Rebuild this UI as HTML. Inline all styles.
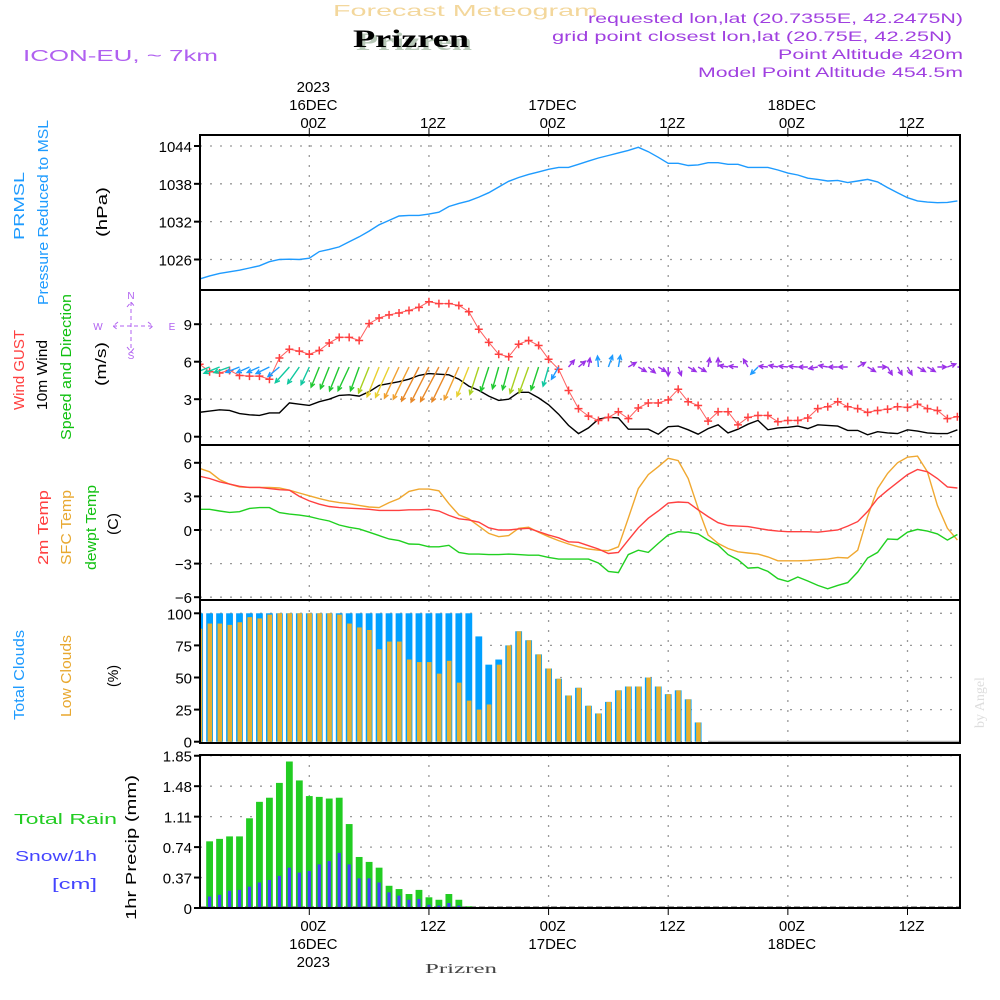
<!DOCTYPE html>
<html><head><meta charset="utf-8"><style>
html,body{margin:0;padding:0;background:#fff;}
svg{display:block;font-family:"Liberation Sans",sans-serif;}
</style></head><body>
<svg id="chart" xmlns="http://www.w3.org/2000/svg" width="1000" height="1000" viewBox="0 0 1000 1000">
<rect x="0" y="0" width="1000" height="1000" fill="#fff"/>
<defs>
<clipPath id="c1"><rect x="200" y="135" width="760" height="155"/></clipPath>
<clipPath id="c2"><rect x="200" y="290" width="760" height="155"/></clipPath>
<clipPath id="c3"><rect x="200" y="445" width="760" height="155"/></clipPath>
<clipPath id="c4"><rect x="200" y="600" width="760" height="143"/></clipPath>
<clipPath id="c5"><rect x="200" y="755" width="760" height="153"/></clipPath>
</defs>
<!-- header -->
<text x="333" y="16" fill="#f3d79c" font-size="16" textLength="265" lengthAdjust="spacingAndGlyphs">Forecast Meteogram</text>
<text x="356" y="50" fill="#b8c8b8" font-family="Liberation Serif,serif" font-weight="bold" font-size="25" textLength="116" lengthAdjust="spacingAndGlyphs">Prizren</text>
<text x="353" y="47" fill="#000" font-family="Liberation Serif,serif" font-weight="bold" font-size="25" textLength="116" lengthAdjust="spacingAndGlyphs">Prizren</text>
<text x="23" y="61" fill="#b060f0" font-size="16" textLength="195" lengthAdjust="spacingAndGlyphs">ICON-EU, ~ 7km</text>
<g fill="#a040e0" font-size="14" text-anchor="end">
<text x="963" y="23" textLength="375" lengthAdjust="spacingAndGlyphs">requested lon,lat (20.7355E, 42.2475N)</text>
<text x="952" y="41" textLength="400" lengthAdjust="spacingAndGlyphs">grid point closest lon,lat (20.75E, 42.25N)</text>
<text x="963" y="59" textLength="185" lengthAdjust="spacingAndGlyphs">Point Altitude 420m</text>
<text x="963" y="77" textLength="265" lengthAdjust="spacingAndGlyphs">Model Point Altitude 454.5m</text>
</g>
<!-- left labels -->
<g font-size="15">
<text transform="translate(24,240) rotate(-90)" fill="#1e9bff" textLength="68" lengthAdjust="spacingAndGlyphs">PRMSL</text>
<text transform="translate(48,305) rotate(-90)" fill="#1e9bff" textLength="185" lengthAdjust="spacingAndGlyphs">Pressure Reduced to MSL</text>
<text transform="translate(107,237) rotate(-90)" fill="#000" textLength="50" lengthAdjust="spacingAndGlyphs">(hPa)</text>
<text transform="translate(24,410) rotate(-90)" fill="#ff4040" textLength="80" lengthAdjust="spacingAndGlyphs">Wind GUST</text>
<text transform="translate(47,410) rotate(-90)" fill="#000" textLength="70" lengthAdjust="spacingAndGlyphs">10m Wind</text>
<text transform="translate(71,440) rotate(-90)" fill="#10c010" textLength="146" lengthAdjust="spacingAndGlyphs">Speed and Direction</text>
<text transform="translate(106,386) rotate(-90)" fill="#000" textLength="44" lengthAdjust="spacingAndGlyphs">(m/s)</text>
<text transform="translate(48,565) rotate(-90)" fill="#ff4040" textLength="75" lengthAdjust="spacingAndGlyphs">2m Temp</text>
<text transform="translate(71,565) rotate(-90)" fill="#e8a830" textLength="75" lengthAdjust="spacingAndGlyphs">SFC Temp</text>
<text transform="translate(96,570) rotate(-90)" fill="#10c010" textLength="85" lengthAdjust="spacingAndGlyphs">dewpt Temp</text>
<text transform="translate(118,535) rotate(-90)" fill="#000" textLength="22" lengthAdjust="spacingAndGlyphs">(C)</text>
<text transform="translate(24,720) rotate(-90)" fill="#1e9bff" textLength="90" lengthAdjust="spacingAndGlyphs">Total Clouds</text>
<text transform="translate(71,717) rotate(-90)" fill="#e8a830" textLength="82" lengthAdjust="spacingAndGlyphs">Low Clouds</text>
<text transform="translate(118,687) rotate(-90)" fill="#000" textLength="22" lengthAdjust="spacingAndGlyphs">(%)</text>
<text transform="translate(136,920) rotate(-90)" fill="#000" textLength="145" lengthAdjust="spacingAndGlyphs">1hr Precip (mm)</text>
<text x="14" y="824" fill="#22cc22" textLength="103" lengthAdjust="spacingAndGlyphs">Total   Rain</text>
<text x="15" y="861" fill="#4444ff" textLength="82" lengthAdjust="spacingAndGlyphs">Snow/1h</text>
<text x="52" y="889" fill="#4444ff" textLength="45" lengthAdjust="spacingAndGlyphs">[cm]</text>
</g>
<!-- compass -->
<g fill="#b060f0" stroke="none" font-size="10">
<text x="131" y="299" text-anchor="middle">N</text>
<text x="131" y="359" text-anchor="middle">S</text>
<text x="98" y="330" text-anchor="middle">W</text>
<text x="172" y="330" text-anchor="middle">E</text>
<path d="M131 302 V352 M113 326 H153 M127 307 L131 302 L135 307 M127 347 L131 352 L135 347 M118 322 L113 326 L118 330 M148 322 L153 326 L148 330" stroke="#b060f0" stroke-width="1" stroke-dasharray="4,3" fill="none"/>
</g>
<text transform="translate(984,728) rotate(-90)" fill="#ddd" font-family="Liberation Serif,serif" font-size="14">by Angel</text>
<text x="425" y="973" fill="#444" font-family="Liberation Serif,serif" font-size="14" textLength="72" lengthAdjust="spacingAndGlyphs">Prizren</text>
<g id="grid"></g>
<g id="marks"></g>
<g id="frames"></g>
<g id="labels" font-size="15" fill="#000"></g>
</svg>
<script>
// ---- data (hourly, t = hours from 16DEC 00Z) ----
const hours = [];
for (let h = -11; h <= 65; h++) hours.push(h);
const pressure = [1022.9,1023.4,1023.8,1024.05,1024.3,1024.65,1025.0,1025.65,1026.0,1026.05,1026.0,1026.2,1027.25,1027.6,1028.0,1028.8,1029.6,1030.5,1031.5,1032.2,1032.9,1033.0,1033.0,1033.2,1033.5,1034.4,1034.9,1035.3,1035.9,1036.6,1037.5,1038.4,1039.0,1039.5,1039.9,1040.3,1040.6,1040.6,1041.1,1041.6,1042.1,1042.5,1042.9,1043.3,1043.8,1043.1,1042.2,1041.25,1041.25,1040.9,1041.0,1041.35,1041.35,1041.1,1041.1,1040.6,1040.6,1040.6,1040.2,1039.7,1039.4,1038.9,1038.7,1038.45,1038.55,1038.2,1038.45,1038.7,1038.3,1037.4,1036.6,1035.8,1035.3,1035.1,1035.0,1035.05,1035.3];
const gust = [5.8,5.2,5.1,5.3,4.9,4.85,4.85,4.6,6.3,7.0,6.85,6.6,6.9,7.5,7.95,7.95,7.7,9.05,9.5,9.75,9.9,10.1,10.35,10.8,10.65,10.65,10.5,10.0,8.6,7.55,6.6,6.4,7.4,7.7,7.3,6.2,5.4,3.7,2.25,1.65,1.3,1.55,2.0,1.45,2.3,2.7,2.7,2.95,3.8,2.8,2.5,1.25,2.0,2.0,0.95,1.55,1.7,1.7,1.2,1.3,1.3,1.5,2.25,2.4,2.8,2.4,2.25,1.95,2.1,2.2,2.4,2.35,2.6,2.25,2.1,1.45,1.6];
const windSpeed = [1.95,2.05,2.15,2.1,1.85,1.75,1.7,1.9,1.9,2.7,2.6,2.5,2.8,3.0,3.3,3.35,3.25,3.6,4.1,4.25,4.4,4.6,4.9,5.05,5.0,4.95,4.6,4.05,3.7,3.25,2.9,3.0,3.55,3.55,3.1,2.55,1.8,0.9,0.25,0.7,1.4,1.55,1.5,0.6,0.6,0.6,0.2,0.8,0.85,0.55,0.2,0.65,0.95,0.3,0.6,1.0,1.3,0.55,0.7,0.75,0.85,0.65,0.95,0.9,0.85,0.5,0.5,0.15,0.4,0.3,0.25,0.55,0.45,0.3,0.25,0.25,0.55];
const windDir = [68,68,68,70,68,66,66,64,50,42,35,25,22,22,22,25,20,22,22,24,25,26,27,27,28,26,24,22,18,18,16,15,18,20,18,16,30,220,230,190,175,200,190,240,300,310,300,0,340,300,300,190,180,100,95,150,45,95,100,95,95,90,80,100,90,90,240,300,270,330,330,330,300,300,270,250,270];
const temp2m = [4.8,4.6,4.3,4.1,3.9,3.8,3.8,3.7,3.6,3.55,3.0,2.6,2.3,2.1,2.0,1.95,1.9,1.85,1.75,1.75,1.75,1.8,1.8,1.85,1.7,1.3,1.0,0.9,0.7,0.2,0.0,0.0,0.1,0.15,-0.15,-0.45,-0.7,-1.05,-1.1,-1.4,-1.7,-2.1,-2.0,-0.9,0.2,1.05,1.7,2.4,2.5,2.45,1.8,1.2,0.65,0.4,0.35,0.3,0.15,0,-0.1,-0.15,-0.15,-0.15,-0.2,-0.1,0,0.35,0.75,1.65,2.8,3.55,4.25,4.95,5.4,5.2,4.6,3.85,3.75];
const tempSfc = [5.5,5.2,4.5,4.1,3.85,3.8,3.8,3.8,3.75,3.55,3.3,3.05,2.8,2.6,2.45,2.35,2.2,2.05,2.0,2.45,2.8,3.45,3.65,3.65,3.5,2.35,1.35,1.0,0.35,-0.3,-0.6,-0.5,0.15,0.25,-0.2,-0.6,-0.95,-1.25,-1.5,-1.7,-1.8,-1.85,-1.5,1.05,3.7,4.95,5.65,6.4,6.2,4.6,1.95,-0.45,-1.2,-1.65,-1.95,-2.05,-2.15,-2.4,-2.75,-2.75,-2.75,-2.72,-2.65,-2.6,-2.45,-2.5,-1.8,1.2,3.7,5.05,6.0,6.5,6.6,5.2,2.2,0.15,-0.9];
const dewpt = [1.85,1.85,1.7,1.57,1.63,1.93,2.0,2.0,1.55,1.42,1.33,1.2,0.98,0.8,0.45,0.24,0.1,-0.2,-0.5,-0.8,-0.95,-1.25,-1.28,-1.5,-1.5,-1.37,-2.0,-2.15,-2.15,-2.2,-2.2,-2.15,-2.2,-2.25,-2.25,-2.45,-2.6,-2.6,-2.6,-2.6,-2.95,-3.7,-3.8,-2.2,-1.8,-2.0,-1.2,-0.45,-0.15,-0.2,-0.35,-0.9,-1.35,-2.2,-2.65,-3.4,-3.35,-3.7,-4.35,-4.6,-4.2,-4.55,-4.95,-5.25,-4.95,-4.7,-3.75,-2.5,-2.0,-0.8,-0.85,-0.2,0.05,-0.1,-0.35,-0.9,-0.4];
const totalClouds = [100,100,100,100,100,100,100,100,100,100,100,100,100,100,100,100,100,100,100,100,100,100,100,100,100,100,100,100,82,60,64,75,86,79,68,57,49,36,42,28,22,31,40,43,43,50,43,37,40,33,15,0];
const lowClouds = [88,92,92,91,93,97,96,99,100,100,100,100,100,100,99,92,89,87,72,78,78,64,62,62,53,63,46,32,25,29,60,75,86,79,68,57,49,36,42,28,22,31,40,43,43,50,43,37,40,33,15,0];
const rainHours = [-10,-9,-8,-7,-6,-5,-4,-3,-2,-1,0,1,2,3,4,5,6,7,8,9,10,11,12,13,14,15,16];
const rain = [0.81,0.84,0.87,0.87,1.09,1.29,1.34,1.52,1.78,1.55,1.36,1.35,1.33,1.34,1.02,0.62,0.56,0.49,0.27,0.23,0.17,0.22,0.13,0.10,0.17,0.10,0.02];
const snow = [0.14,0.16,0.21,0.22,0.26,0.31,0.34,0.39,0.49,0.43,0.45,0.53,0.57,0.67,0.53,0.36,0.36,0.31,0.19,0.15,0.10,0.11,0.04,0.03,0.06,0.03,0];
const pTicks = [1026,1032,1038,1044];
const wTicks = [0,3,6,9];
const tTicks = [-6,-3,0,3,6];
const cTicks = [0,25,50,75,100];
const rTicks = [0,0.37,0.74,1.11,1.48,1.85];
const timeTicks = [0,12,24,36,48,60];
const timeLabels = ["00Z","12Z","00Z","12Z","00Z","12Z"];
const dayLabels = ["16DEC","","17DEC","","18DEC",""];

// ---- axis functions ----
const X0 = 200, X1 = 960;
const xT = t => 309.3 + 9.97 * t;
const yP = v => 146 + (1044 - v) * 6.305;
const yW = v => 436.7 - v * 12.5;
const yTp = v => 530 - v * 11.2;
const yC = v => 741.7 - v * 1.284;
const yR = v => 908 - v * 82.3;

const NS = "http://www.w3.org/2000/svg";
function mk(tag, attrs, parent) {
  const e = document.createElementNS(NS, tag);
  for (const k in attrs) e.setAttribute(k, attrs[k]);
  parent.appendChild(e);
  return e;
}
const grid = document.getElementById('grid');
const marks = document.getElementById('marks');
const frames = document.getElementById('frames');
const labels = document.getElementById('labels');

const panels = [
  {top:135, bot:290, ticks:pTicks, y:yP, fmt:v=>String(v), name:'pressure'},
  {top:290, bot:445, ticks:wTicks, y:yW, fmt:v=>String(v), name:'wind'},
  {top:445, bot:600, ticks:tTicks, y:yTp, fmt:v=>String(v).replace('-', '\u2212'), name:'temperature'},
  {top:600, bot:743, ticks:cTicks, y:yC, fmt:v=>String(v), name:'clouds'},
  {top:755, bot:908, ticks:rTicks, y:yR, fmt:v=>String(v), name:'precip'}
];
panels.forEach(p => {
  timeTicks.forEach(t => {
    const l = mk('line', {x1:xT(t), x2:xT(t), y1:p.top, y2:p.bot, stroke:'#999', 'stroke-width':1.3, 'stroke-dasharray':'2,8'}, grid);
    
    
  });
  p.ticks.forEach(v => {
    const yy = p.y(v);
    const l = mk('line', {x1:X0, x2:X1, y1:yy, y2:yy, stroke:'#999', 'stroke-width':1.3, 'stroke-dasharray':'2,8'}, grid);
    
    
    const tk = mk('line', {x1:X0 - 6, x2:X0, y1:yy, y2:yy, stroke:'#000', 'stroke-width':2}, frames);
    
    
    const tx = mk('text', {x:192, y:yy + 6, 'text-anchor':'end'}, labels);
    
    
    tx.textContent = p.fmt(v);
  });
  const r = mk('rect', {x:X0, y:p.top, width:X1 - X0, height:p.bot - p.top, fill:'none', stroke:'#000', 'stroke-width':2}, frames);
  
  
});
// time axis labels
timeTicks.forEach((t, i) => {
  const x = xT(t) + 4;
  const a = mk('line', {x1:x - 4, x2:x - 4, y1:128, y2:135, stroke:'#000', 'stroke-width':1}, frames);
  
  
  const b = mk('line', {x1:x - 4, x2:x - 4, y1:908, y2:915, stroke:'#000', 'stroke-width':1}, frames);
  
  
  const tl = mk('text', {x:x, y:128, 'text-anchor':'middle'}, labels);
  
  
  tl.textContent = timeLabels[i];
  const bl = mk('text', {x:x, y:931, 'text-anchor':'middle'}, labels);
  
  
  bl.textContent = timeLabels[i];
  if (dayLabels[i]) {
    const d1 = mk('text', {x:x, y:110, 'text-anchor':'middle'}, labels);
    
    
    d1.textContent = dayLabels[i];
    const d2 = mk('text', {x:x, y:949, 'text-anchor':'middle'}, labels);
    
    
    d2.textContent = dayLabels[i];
  }
});
const y1 = mk('text', {x:xT(0) + 4, y:92, 'text-anchor':'middle'}, labels);


y1.textContent = '2023';
const y2 = mk('text', {x:xT(0) + 4, y:967, 'text-anchor':'middle'}, labels);


y2.textContent = '2023';

function poly(vals, yf, color, name, clip, w) {
  const pts = vals.map((v, i) => xT(hours[i]).toFixed(1) + ',' + yf(v).toFixed(1)).join(' ');
  const e = mk('polyline', {points:pts, fill:'none', stroke:color, 'stroke-width':w || 1.4, 'clip-path':'url(#' + clip + ')'}, marks);
  
  
}
// pressure
poly(pressure, yP, '#1e9bff', 'pressure-line', 'c1');
// wind speed
poly(windSpeed, yW, '#000', 'wind-speed-line', 'c2');
// gust
poly(gust, yW, '#ff6060', 'wind-gust-line', 'c2', 1);
const gg = mk('g', {'clip-path':'url(#c2)'}, marks);


gust.forEach((v, i) => {
  const x = xT(hours[i]), y = yW(v);
  const m = mk('path', {d:`M${x-4} ${y}H${x+4}M${x} ${y-4}V${y+4}`, stroke:'#ff4040', 'stroke-width':1.5}, gg);
  
  
});
// wind arrows
function spdColor(s) {
  if (s < 1.2) return '#9a30e8';
  if (s < 2.0) return '#1e9bff';
  if (s < 2.8) return '#10c8a0';
  if (s < 3.4) return '#20c830';
  if (s < 3.8) return '#a8d020';
  if (s < 4.3) return '#e8d030';
  if (s < 4.8) return '#f0a030';
  return '#e88828';
}
const ga = mk('g', {'clip-path':'url(#c2)'}, marks);


windDir.forEach((d, i) => {
  const s = windSpeed[i];
  const L = Math.max(s * 7.8, 9);
  const r = d * Math.PI / 180;
  const dx = -Math.sin(r) * L, dy = Math.cos(r) * L;
  const x0 = xT(hours[i]), y0 = 367;
  const x1 = x0 + dx, y1 = y0 + dy;
  const ang = Math.atan2(dy, dx);
  const h = 5;
  const a1 = ang + Math.PI - 0.45, a2 = ang + Math.PI + 0.45;
  const dd = `M${x0.toFixed(1)} ${y0}L${x1.toFixed(1)} ${y1.toFixed(1)}M${(x1 + h*Math.cos(a1)).toFixed(1)} ${(y1 + h*Math.sin(a1)).toFixed(1)}L${x1.toFixed(1)} ${y1.toFixed(1)}L${(x1 + h*Math.cos(a2)).toFixed(1)} ${(y1 + h*Math.sin(a2)).toFixed(1)}`;
  const e = mk('path', {d:dd, stroke:spdColor(s), 'stroke-width':1.4, fill:'none'}, ga);
  
  
});
// temps
poly(tempSfc, yTp, '#f0a830', 'sfc-temp-line', 'c3');
poly(temp2m, yTp, '#ff4040', 'temp-2m-line', 'c3');
poly(dewpt, yTp, '#20d020', 'dewpt-line', 'c3');
// clouds
const gc = mk('g', {'clip-path':'url(#c4)'}, marks);


const zl = mk('line', {x1:xT(40), x2:X1, y1:741.5, y2:741.5, stroke:'#aaa', 'stroke-width':1.5}, gc);


totalClouds.forEach((v, i) => {
  const x = xT(hours[i]);
  if (v > 0) {
    const b = mk('rect', {x:x - 3.4, y:yC(v), width:6.8, height:yC(0) - yC(v), fill:'#00a0ff'}, gc);
    
    
  }
  const lv = lowClouds[i];
  if (lv > 0) {
    const b2 = mk('rect', {x:x - 2, y:yC(lv), width:4.6, height:yC(0) - yC(lv), fill:'#e8b030'}, gc);
    
    
  }
});
// precip
const gr = mk('g', {'clip-path':'url(#c5)'}, marks);


const zr = mk('line', {x1:X0, x2:X1, y1:907, y2:907, stroke:'#888', 'stroke-width':1.5, 'stroke-dasharray':'6,3'}, gr);


rainHours.forEach((h, i) => {
  const x = xT(h);
  const b = mk('rect', {x:x - 3.4, y:yR(rain[i]), width:6.8, height:yR(0) - yR(rain[i]), fill:'#22cc22'}, gr);
  
  
  if (snow[i] > 0) {
    const s = mk('rect', {x:x - 1.6, y:yR(snow[i]), width:3.2, height:yR(0) - yR(snow[i]), fill:'#4040ff'}, gr);
    
    
  }
});
</script>
</body></html>
